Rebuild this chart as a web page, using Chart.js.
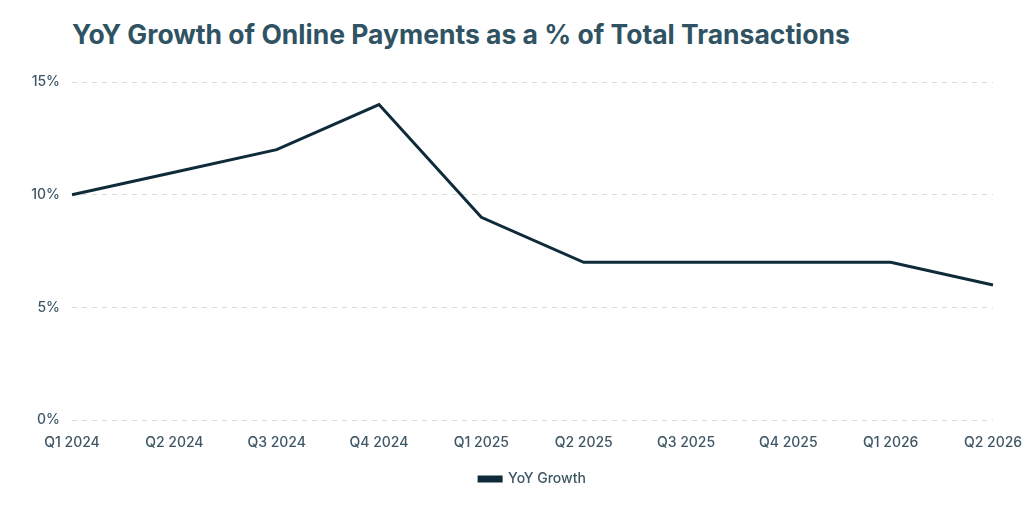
<!DOCTYPE html>
<html>
<head>
<meta charset="utf-8">
<script src="https://cdn.jsdelivr.net/npm/chart.js@4/dist/chart.umd.min.js"></script>
<style>
  html, body { margin: 0; padding: 0; background: #fff; }
  #wrap { position: relative; width: 1024px; height: 512px; }
  #title {
    position: absolute; left: 72px; top: 18px; margin: 0;
    font-family: Inter, "Open Sans", sans-serif; font-weight: 700;
    font-size: 26.5px; line-height: 33px; color: #2f5363;
  }
  canvas { position: absolute; left: 0; top: 0; }
</style>
</head>
<body>
<div id="wrap">
  <h1 id="title">YoY Growth of Online Payments as a % of Total Transactions</h1>
  <canvas id="chart" width="1024" height="512"></canvas>
</div>
<script>
// ----- data -----
const quarters = ["Q1 2024", "Q2 2024", "Q3 2024", "Q4 2024", "Q1 2025",
                  "Q2 2025", "Q3 2025", "Q4 2025", "Q1 2026", "Q2 2026"];
const yoyGrowth = [10, 11, 12, 14, 9, 7, 7, 7, 7, 6];
const yTicks = [0, 5, 10, 15];

const textColor = "#3e5665";
const lineColor = "#0f2b3a";
const tickFont = { family: "Inter, 'Open Sans', sans-serif", size: 14, weight: 500 };

const ctx = document.getElementById('chart').getContext('2d');
new Chart(ctx, {
  type: 'line',
  data: {
    labels: quarters,
    datasets: [{
      label: "YoY Growth",
      data: yoyGrowth,
      borderColor: lineColor,
      backgroundColor: lineColor,
      borderWidth: 3,
      tension: 0,
      pointRadius: 0,
      pointHoverRadius: 0
    }]
  },
  options: {
    responsive: false,
    animation: false,
    layout: { padding: { top: 82, right: 0, bottom: 16, left: 0 } },
    plugins: {
      title: { display: false },
      tooltip: { enabled: false },
      legend: {
        position: 'bottom',
        fullSize: false,
        labels: {
          boxWidth: 22,
          boxHeight: 4,
          padding: 15,
          color: textColor,
          font: tickFont
        }
      }
    },
    scales: {
      x: {
        offset: false,
        afterFit: function (scale) { scale.paddingRight = 31; scale.paddingLeft = 0; },
        grid: { display: false },
        border: { display: false },
        ticks: {
          color: textColor,
          maxRotation: 0,
          autoSkip: false,
          padding: 6,
          font: tickFont
        }
      },
      y: {
        min: 0,
        max: 15,
        afterFit: function (scale) { scale.width = 72; },
        afterBuildTicks: function (scale) {
          scale.ticks = yTicks.map(v => ({ value: v }));
        },
        border: { display: false, dash: [5, 5] },
        grid: { color: "#d9d9d9", lineWidth: 1, drawTicks: false },
        ticks: {
          color: textColor,
          padding: 12,
          callback: v => v + "%",
          font: tickFont
        }
      }
    }
  }
});
</script>
</body>
</html>
